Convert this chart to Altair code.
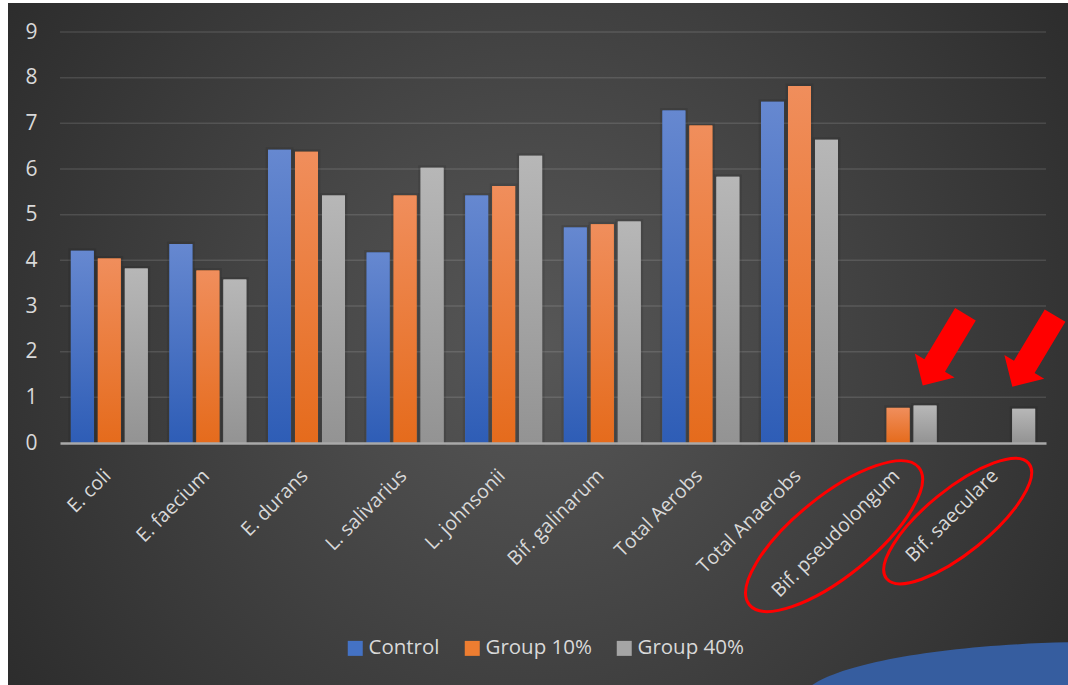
import altair as alt
import pandas as pd

# ---- data -------------------------------------------------------------
categories = [
    "E. coli", "E. faecium", "E. durans", "L. salivarius", "L. johnsonii",
    "Bif. galinarum", "Total Aerobs", "Total Anaerobs",
    "Bif. pseudolongum", "Bif. saeculare",
]
series = ["Control", "Group 10%", "Group 40%"]
control = [4.21, 4.36, 6.42, 4.17, 5.42, 4.72, 7.28, 7.47, None, None]
group10 = [4.04, 3.78, 6.38, 5.42, 5.63, 4.79, 6.95, 7.82, 0.77, None]
group40 = [3.82, 3.58, 5.42, 6.03, 6.29, 4.85, 5.83, 6.64, 0.82, 0.75]
y_ticks = [0, 1, 2, 3, 4, 5, 6, 7, 8, 9]

series_colors = ["#4472c4", "#ed7d31", "#a5a5a5"]
gradient_stops = {
    "Control": ["#6688d0", "#2e5db6"],
    "Group 10%": ["#f08e5c", "#e56b1c"],
    "Group 40%": ["#b7b7b7", "#939393"],
}

# arrows pointing at the new bifidobacteria, and rings round their labels
arrow_cats = ["Bif. pseudolongum", "Bif. saeculare"]
arrow_vals = [2.04, 2.01]
arrow_dx = [46, 37]
ring_cats = ["Bif. pseudolongum", "Bif. saeculare"]
ring_vals = [-2.04, -1.71]
ring_dx = [-64, -39]
ring_size = [218, 183]
ring_ratio = [0.367, 0.347]

rows = []
for s, vals in zip(series, [control, group10, group40]):
    for c, v in zip(categories, vals):
        if v is not None:
            rows.append({"category": c, "series": s, "value": v})
bars = pd.DataFrame(rows)

W, H = 986, 411
LABEL = "#d9d9d9"
FONT = "Open Sans"

x_scale = alt.Scale(domain=categories, paddingInner=0.22, paddingOuter=0.11)
y_scale = alt.Scale(domain=[0, 9], nice=False, zero=True)
xo_scale = alt.Scale(domain=series, paddingInner=0.15, paddingOuter=0)

x_axis = alt.Axis(
    title=None, labelAngle=-45, labelAlign="right", labelBaseline="top",
    labelFontSize=19.5, labelFont=FONT, labelColor=LABEL, labelPadding=23,
    labelOffset=-8, ticks=False, grid=False, domain=True,
    domainColor="#a9a9a9", domainWidth=2.5, zindex=1, labelOverlap=False,
)
y_axis = alt.Axis(
    title=None, values=y_ticks, labelFontSize=21, labelFont=FONT,
    labelColor=LABEL, labelPadding=23, ticks=False, domain=False,
    grid=False, zindex=1,
)
x_enc = alt.X("category:N", sort=categories, scale=x_scale, axis=x_axis)
y_enc = alt.Y("value:Q", scale=y_scale, axis=y_axis)
xo = alt.XOffset("series:N", sort=series, scale=xo_scale)

# slide background with a soft radial glow
bg_fill = alt.RadialGradient(
    gradient="radial", x1=0.5, y1=0.5, r1=0, x2=0.5, y2=0.5, r2=0.7,
    stops=[
        alt.GradientStop(color="#575757", offset=0),
        alt.GradientStop(color="#4b4b4b", offset=0.25),
        alt.GradientStop(color="#252525", offset=1),
    ],
)
background = alt.Chart(pd.DataFrame({"k": [0]})).mark_rect(fill=bg_fill).encode(
    x=alt.value(-52), x2=alt.value(1008), y=alt.value(-29), y2=alt.value(653)
)

grid = alt.Chart(pd.DataFrame({"value": y_ticks[1:]})).mark_rule(
    color="#ffffff", opacity=0.12, strokeWidth=1.5
).encode(y=y_enc)

shadow = alt.Chart(bars).mark_bar(
    fillOpacity=0, stroke="#000000", strokeWidth=5, strokeOpacity=0.09
).encode(x=x_enc, y=y_enc, xOffset=xo)

solid = alt.Chart(bars).mark_bar().encode(
    x=x_enc, y=y_enc, xOffset=xo,
    color=alt.Color(
        "series:N", sort=series,
        scale=alt.Scale(domain=series, range=series_colors),
        legend=alt.Legend(
            title=None, orient="none", legendX=285, legendY=606,
            direction="horizontal", symbolType="square", symbolSize=225,
            symbolStrokeWidth=0, symbolOpacity=1, labelFontSize=20.5,
            labelFont=FONT, labelColor=LABEL, columnPadding=22, labelOffset=3,
        ),
    ),
)

gradient_layers = []
for s in series:
    top, bottom = gradient_stops[s]
    fill = alt.LinearGradient(
        gradient="linear", x1=0, y1=0, x2=0, y2=1,
        stops=[alt.GradientStop(color=top, offset=0),
               alt.GradientStop(color=bottom, offset=1)],
    )
    gradient_layers.append(
        alt.Chart(bars).transform_filter(alt.datum.series == s)
        .mark_bar(fill=fill).encode(x=x_enc, y=y_enc, xOffset=xo)
    )

# block arrow, drawn pointing down and then turned
arrow_path = ("M -0.29 -1 L 0.29 -1 L 0.29 0.44 L 0.56 0.44 L 0 1 "
              "L -0.56 0.44 L -0.29 0.44 Z")
arrows = []
for c, v, dx in zip(arrow_cats, arrow_vals, arrow_dx):
    arrows.append(
        alt.Chart(pd.DataFrame({"category": [c], "value": [v]}))
        .mark_point(shape=arrow_path, size=83 * 83, filled=True, fill="#ff0000",
                    stroke="#ff0000", strokeWidth=0, opacity=1, angle=31,
                    xOffset=dx)
        .encode(x=x_enc, y=y_enc)
    )

rings = []
for c, v, dx, d, r in zip(ring_cats, ring_vals, ring_dx, ring_size, ring_ratio):
    path = f"M -1 0 A 1 {r} 0 1 1 1 0 A 1 {r} 0 1 1 -1 0 Z"
    rings.append(
        alt.Chart(pd.DataFrame({"category": [c], "value": [v]}))
        .mark_point(shape=path, size=d * d, filled=False, stroke="#ff0000",
                    strokeWidth=3, opacity=1, angle=321, xOffset=dx)
        .encode(x=x_enc, y=y_enc)
    )

# slide decoration in the lower right corner
corner = alt.Chart(pd.DataFrame({"k": [0]})).mark_point(
    shape="M -1 0 A 1 0.2 0 1 1 1 0 A 1 0.2 0 1 1 -1 0 Z",
    size=600 * 600, filled=True, fill="#365d9f", strokeWidth=0, opacity=1,
).encode(x=alt.value(1040), y=alt.value(670))

chart = alt.layer(
    background, grid, shadow, solid, *gradient_layers, *arrows, *rings, corner
).properties(
    width=W, height=H, autosize="none",
    padding={"left": 60, "top": 32, "right": 22, "bottom": 242},
    background="#ffffff",
).configure_view(stroke=None)

chart.save("out.html", embed_options={"renderer": "svg", "actions": False})
